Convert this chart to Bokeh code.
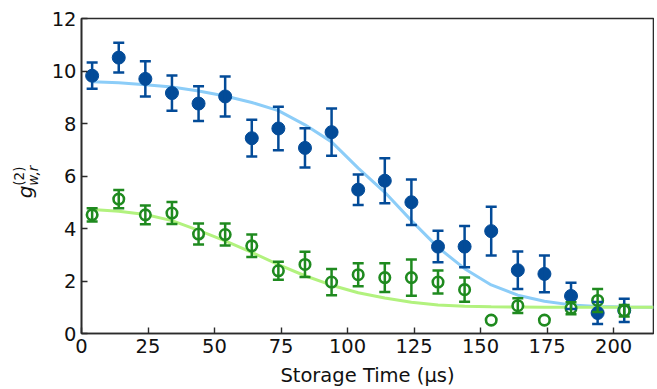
from bokeh.plotting import figure
from bokeh.models import ColumnDataSource, Whisker, TeeHead, Range1d, FixedTicker, Div
from bokeh.layouts import row
from bokeh.embed import file_html
from bokeh.resources import INLINE

# ---- data ----
storage_time = [4, 14, 24, 34, 44, 54, 64, 74, 84, 94, 104,
                114, 124, 134, 144, 154, 164, 174, 184, 194, 204]

g2_filled = [9.82, 10.51, 9.70, 9.16, 8.76, 9.03, 7.44, 7.81, 7.07, 7.67, 5.48,
             5.82, 5.00, 3.31, 3.31, 3.90, 2.41, 2.27, 1.43, 0.78, 0.88]
g2_filled_err = [0.50, 0.57, 0.67, 0.67, 0.66, 0.76, 0.70, 0.83, 0.75, 0.90, 0.58,
                 0.86, 0.87, 0.60, 0.79, 0.93, 0.71, 0.70, 0.50, 0.42, 0.44]

g2_open = [4.52, 5.12, 4.52, 4.59, 3.79, 3.77, 3.34, 2.39, 2.63, 1.96, 2.24,
           2.13, 2.13, 1.96, 1.67, 0.51, 1.06, 0.51, 0.96, 1.26, 0.87]
g2_open_err = [0.25, 0.35, 0.36, 0.42, 0.40, 0.42, 0.43, 0.34, 0.48, 0.50, 0.44,
               0.55, 0.69, 0.44, 0.46, 0.0, 0.28, 0.0, 0.23, 0.44, 0.22]

fit_time = [4, 14, 24, 34, 44, 54, 64, 74, 84, 94, 104, 114, 124, 134,
            144, 154, 164, 174, 184, 194, 204, 215]
fit_filled = [9.59, 9.55, 9.48, 9.39, 9.24, 9.05, 8.80, 8.49, 7.95, 7.30, 6.30,
              5.38, 4.30, 3.28, 2.47, 1.85, 1.46, 1.23, 1.09, 1.03, 1.01, 1.00]
fit_open = [4.72, 4.66, 4.53, 4.30, 3.93, 3.53, 3.09, 2.62, 2.20, 1.84, 1.55,
            1.35, 1.19, 1.09, 1.04, 1.02, 1.01, 1.00, 1.00, 1.00, 1.00, 1.00]

x_ticks = [0, 25, 50, 75, 100, 125, 150, 175, 200]
y_ticks = [0, 2, 4, 6, 8, 10, 12]

y_label_main = "g"
y_label_sup = "(2)"
y_label_sub = "w,r"

BLUE = "#034b98"
GREEN = "#1f8a1f"
BLUE_FIT = "#8ccdf8"
GREEN_FIT = "#b2f27e"
AX = "#2b2b2b"
FONT = "DejaVu Sans"

LABEL_W = 40

p = figure(width=654 - LABEL_W, height=389, output_backend="svg", toolbar_location=None,
           x_range=Range1d(0, 215), y_range=Range1d(0, 12),
           min_border_left=81 - LABEL_W, min_border_right=1, min_border_top=18,
           min_border_bottom=51)

p.background_fill_color = "white"
p.border_fill_color = "white"
p.outline_line_color = AX
p.outline_line_width = 1.6
p.grid.visible = False

for ax in (p.xaxis[0], p.yaxis[0]):
    ax.axis_line_color = AX
    ax.axis_line_width = 1.6
    ax.major_tick_in = 6
    ax.major_tick_out = 0
    ax.major_tick_line_color = AX
    ax.major_tick_line_width = 1.4
    ax.minor_tick_line_color = None
    ax.major_label_text_font = FONT
    ax.major_label_text_font_size = "19.5px"
    ax.major_label_text_color = "#111111"

p.xaxis.ticker = FixedTicker(ticks=x_ticks)
p.yaxis.ticker = FixedTicker(ticks=y_ticks)
p.xaxis.major_label_standoff = 5
p.yaxis.major_label_standoff = 5
p.xaxis.axis_label = "Storage Time (\u03bcs)"
p.xaxis.axis_label_text_font = FONT
p.xaxis.axis_label_text_font_size = "19.5px"
p.xaxis.axis_label_text_font_style = "normal"
p.xaxis.axis_label_text_color = "#111111"
p.xaxis.axis_label_standoff = 8


def bounds(vals, errs):
    up = [v + e if e > 0 else float("nan") for v, e in zip(vals, errs)]
    lo = [v - e if e > 0 else float("nan") for v, e in zip(vals, errs)]
    return up, lo


# fit curves
p.line(fit_time, fit_filled, line_color=BLUE_FIT, line_width=3)
p.line(fit_time, fit_open, line_color=GREEN_FIT, line_width=3)

# filled series
up_f, lo_f = bounds(g2_filled, g2_filled_err)
src_f = ColumnDataSource(dict(x=storage_time, y=g2_filled, up=up_f, lo=lo_f))
wf = Whisker(source=src_f, base="x", upper="up", lower="lo", level="glyph",
             line_color=BLUE, line_width=2.5,
             upper_head=TeeHead(size=11, line_color=BLUE, line_width=2.5),
             lower_head=TeeHead(size=11, line_color=BLUE, line_width=2.5))
p.add_layout(wf)
p.scatter("x", "y", source=src_f, size=13, marker="circle",
          fill_color=BLUE, line_color=BLUE, line_width=1)

# open series
up_o, lo_o = bounds(g2_open, g2_open_err)
src_o = ColumnDataSource(dict(x=storage_time, y=g2_open, up=up_o, lo=lo_o))
wo = Whisker(source=src_o, base="x", upper="up", lower="lo", level="glyph",
             line_color=GREEN, line_width=2.5,
             upper_head=TeeHead(size=11, line_color=GREEN, line_width=2.5),
             lower_head=TeeHead(size=11, line_color=GREEN, line_width=2.5))
p.add_layout(wo)
p.scatter("x", "y", source=src_o, size=10.5, marker="circle",
          fill_color="white", line_color=GREEN, line_width=2.6)

# rotated y-axis label g^{(2)}_{w,r}
label_html = (
    '<div style="position:absolute; left:26px; top:182px; '
    'transform:translate(-50%,-50%) rotate(-90deg); white-space:nowrap; '
    'font-family:\'DejaVu Sans\'; color:#111111; line-height:1;">'
    '<span style="font-style:italic; font-size:20px; vertical-align:baseline;">'
    + y_label_main + '</span>'
    '<span style="display:inline-block; vertical-align:-5px; font-size:13.5px; '
    'line-height:1.0; margin-left:0px;">'
    '<span style="display:block;">' + y_label_sup + '</span>'
    '<span style="display:block; font-style:italic;">' + y_label_sub + '</span>'
    '</span></div>'
)
ylab = Div(text=label_html, width=LABEL_W, height=389, margin=0,
           styles={"overflow": "visible", "position": "relative"})

layout = row(ylab, p)
open("out.html", "w").write(file_html(layout, INLINE))
